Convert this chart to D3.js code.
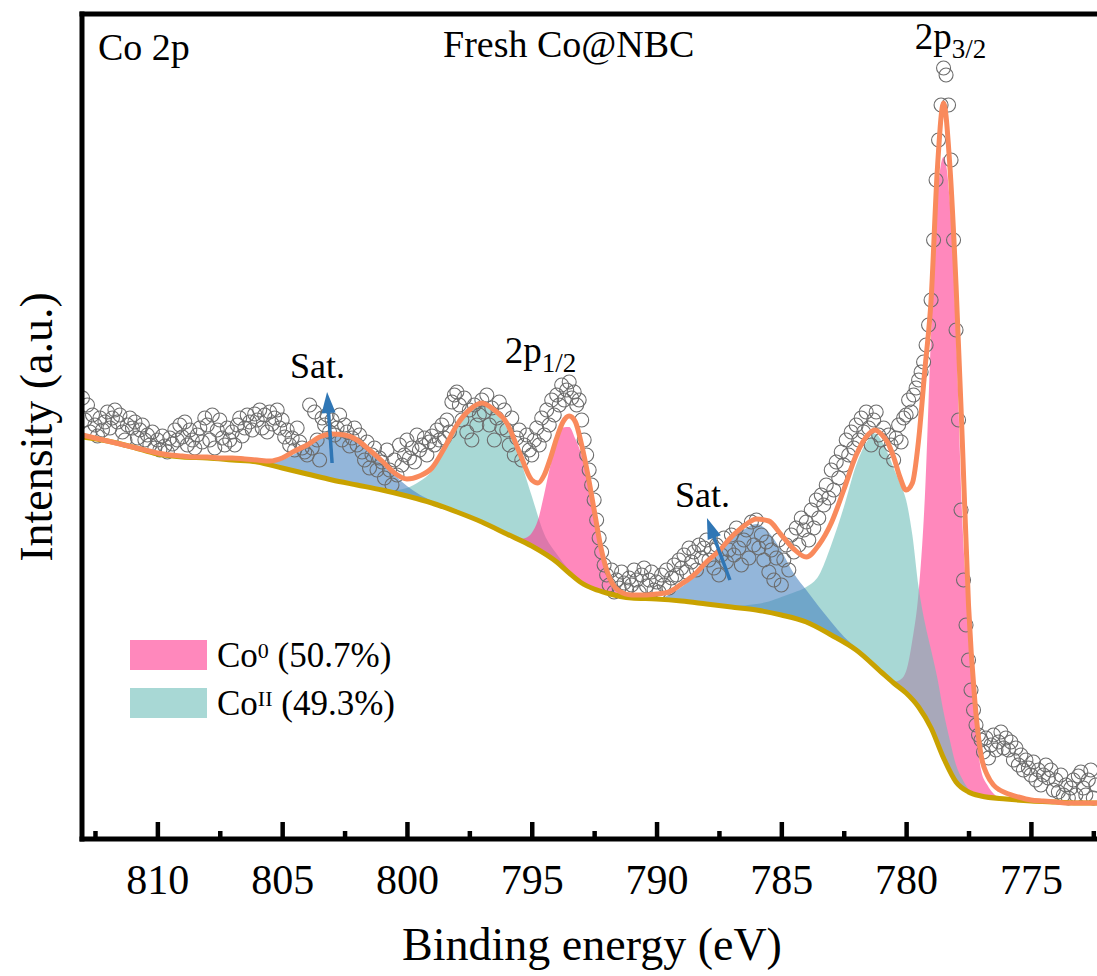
<!DOCTYPE html>
<html><head><meta charset="utf-8">
<script src="https://cdn.jsdelivr.net/npm/d3@7"></script>
<style>
html,body{margin:0;padding:0;background:#fff;}
svg{display:block;font-family:"Liberation Serif","Times New Roman",serif;}
</style></head><body>
<svg id="chart" width="1097" height="976"></svg>
<script>
// ---------------- DATA ----------------
// Raw XPS spectrum (Co 2p): binding-energy grid start/step, intensity (a.u.)
const dataStartE = 813.0, dataStepE = 0.1;
const dataV = [
 44.1,41.9,43.4,40.7,42.4,41.4,40.3,42.1,40.9,41.7,
 42.7,41.1,42.1,42.9,41.7,42.4,40.7,39.9,41.4,42.1,
 41.1,41.7,40.1,40.9,41.4,39.9,40.4,39.4,40.7,39.1,
 39.9,38.9,40.3,39.3,38.7,40.1,39.5,40.9,39.9,41.4,
 40.2,41.7,39.4,40.9,39.9,39.1,40.4,41.1,39.7,42.1,
 41.4,39.9,42.4,39.1,40.9,41.9,40.1,39.4,41.1,39.9,
 40.7,39.4,41.4,42.1,40.3,41.1,42.4,41.7,40.9,42.5,
 41.9,42.9,41.1,42.4,40.7,42.7,41.5,42.1,42.9,41.1,
 41.9,40.2,40.9,39.4,40.1,38.9,41.1,39.7,39.1,38.7,
 38.4,43.4,39.1,42.7,39.9,37.9,42.1,41.4,42.4,40.7,
 41.9,40.4,41.1,42.4,39.9,41.4,40.7,39.3,40.1,41.1,
 39.4,40.4,38.7,37.9,39.7,37.1,38.4,39.1,36.9,38.1,
 37.7,36.1,38.9,36.9,35.4,37.9,36.4,39.4,37.4,38.4,
 39.9,38.1,39.1,37.7,40.4,38.9,39.4,40.1,38.4,39.7,
 40.3,39.4,40.9,39.9,41.4,40.1,41.9,40.7,43.7,44.4,
 44.7,43.4,41.9,44.1,40.7,42.9,39.9,43.4,41.4,42.4,
 43.9,42.7,44.4,41.4,43.1,39.9,42.1,43.7,41.1,42.9,
 40.9,39.4,42.1,38.4,40.1,40.9,37.9,39.4,40.4,38.9,
 38.4,39.9,41.1,39.4,42.1,40.4,42.9,41.4,43.9,42.4,
 44.4,43.4,45.4,43.9,44.9,45.7,44.1,44.7,43.4,43.9,
 41.9,39.9,38.4,36.9,35.4,33.9,31.9,30.1,28.7,27.4,
 26.4,25.4,26.9,24.7,25.9,25.1,26.7,25.6,24.9,26.1,
 25.4,26.9,25.9,24.7,26.4,27.1,25.3,25.9,26.7,24.9,
 25.7,24.7,26.4,25.4,26.9,25.1,26.1,27.4,26.4,27.9,
 27.1,28.4,26.7,29.1,27.7,28.7,26.9,29.4,28.1,29.1,
 29.9,27.9,28.9,27.1,29.4,26.4,28.4,30.1,27.7,28.9,
 30.4,28.4,31.1,29.1,27.4,29.9,30.9,28.1,31.7,29.4,
 31.9,29.1,30.4,27.9,29.7,26.7,28.9,25.9,28.1,29.9,
 25.4,27.9,29.4,26.9,30.4,28.7,31.1,29.4,32.1,30.9,
 31.7,29.9,32.9,31.1,33.9,32.1,34.4,33.4,35.4,34.1,
 36.9,34.9,37.7,36.1,38.7,37.4,39.9,38.4,40.7,39.1,
 41.4,39.9,42.1,40.7,42.7,41.1,39.4,41.9,42.7,40.4,
 39.9,41.1,38.7,40.4,39.4,37.9,40.1,41.4,39.7,42.1,
 42.4,43.9,42.7,44.4,45.1,45.9,46.7,47.7,49.4,51.4,
 53.9,59.9,65.9,69.9,73.4,77.1,76.4,73.4,67.9,59.9,
 50.9,41.9,32.9,25.9,21.4,17.9,14.9,12.9,11.4,10.4,
 9.9,8.7,10.1,8.1,9.4,10.4,8.9,9.7,10.7,9.1,
 10.1,8.9,9.7,7.9,9.1,7.4,8.4,6.9,7.9,7.1,
 6.4,7.7,5.9,6.9,5.4,6.4,7.4,6.1,6.9,4.9,
 5.9,4.7,6.4,4.4,5.4,4.1,5.1,5.9,4.4,6.3,
 6.7,5.1,4.4,5.9,6.9,4.1,5.4
];

// Fitted envelope (cumulative fit)
const envE = [813,812.5,812,811.5,811,810.5,810,809.5,809,808.5,808,807.5,807,806.5,806,805.5,805,804.5,804,803.5,803,802.5,802,801.5,801,800.5,800,799.5,799,798.5,798,797.5,797,796.5,796,795.5,795,794.75,794.5,794.25,794,793.75,793.5,793.25,793,792.75,792.5,792.25,792,791.5,791,790.5,790,789.5,789,788.5,788,787.5,787,786.5,786,785.5,785,784.5,784,783.5,783,782.5,782,781.5,781.25,781,780.75,780.5,780.25,780,779.75,779.5,779.25,779,778.75,778.5,778.25,778,777.75,777.5,777.25,777,776.75,776.5,776.25,776,775.5,775,774.5,774,773.5,773,772.5,772.3];
const envV = [40.4,40.1,39.8,39.5,39.2,38.9,38.6,38.4,38.3,38.2,38.2,38.1,38.1,38.0,37.9,37.8,38.1,38.8,39.4,40.2,40.5,40.4,39.9,38.9,37.8,36.6,36.0,36.3,37.1,39.1,41.4,42.9,43.6,42.9,41.6,38.7,35.9,35.6,36.4,38.1,40.1,41.7,42.3,41.7,39.4,36.4,32.9,29.4,26.9,24.8,24.4,24.4,24.5,24.7,25.5,26.4,27.7,28.8,30.2,31.3,32.0,31.8,30.4,29.0,28.2,29.4,31.6,34.9,38.4,40.5,40.9,40.5,39.7,38.2,36.2,34.9,35.6,39.9,46.9,53.9,66.9,73.6,67.4,55.4,39.9,23.4,13.9,8.4,6.4,5.4,4.9,4.6,4.2,3.9,3.8,3.7,3.6,3.6,3.6,3.6];

// Background (Shirley)
const bgE = [813,812,811,810,809,808,807,806,805,804,803,802,801,800,799,798,797,796,795,794,793.5,793,792.5,792,791,790,789,788,787,786,785,784,783,782,781,780.5,780,779.5,779,778.5,778,777.5,777,776,775,774,773,772.3];
const bgV = [40.2,39.8,39.2,38.5,38.2,38.1,37.9,37.7,37.1,36.5,35.9,35.4,34.9,34.3,33.6,32.7,31.7,30.5,29.3,27.7,26.6,25.6,25.0,24.6,24.1,24.0,23.8,23.5,23.2,22.9,22.4,21.7,20.4,18.9,16.7,15.6,14.6,13.2,11.1,8.1,5.7,4.7,4.3,4.0,3.8,3.7,3.6,3.6];

// Fitted components (height above background)
const co032E = [780.5,780.25,780,779.75,779.5,779.25,779,778.75,778.5,778.25,778,777.75,777.5,777.25,777,776.75,776.5,776.25];
const co032V = [0.1,0.8,2.2,6.0,11.5,22.0,39.5,54.5,60.1,57.0,45.2,26.8,17.2,8.4,2.6,1.2,0.4,0];
const coII32E = [787,786.5,786,785.5,785,784.5,784,783.5,783,782.5,782,781.5,781.25,781,780.75,780.5,780.25,780,779.75,779.5,779.25,779,778.75,778.5,778.25,778,777.75,777.5,777];
const coII32V = [0.1,0.3,0.6,1.1,1.8,2.6,3.5,5.3,9.0,13.5,18.5,22.2,23.3,23.2,22.5,21.5,20.5,19.3,16.5,12.0,9.5,7.8,6.5,4.6,3.0,1.7,0.8,0.3,0];
const sat2E = [790,789.5,789,788.5,788,787.5,787,786.5,786,785.5,785,784.5,784,783.5,783,782.5,782,781.5];
const sat2V = [0,0.5,1.4,2.5,3.9,5.2,6.9,7.9,8.6,8.0,6.4,4.5,3.2,2.2,1.3,0.6,0.2,0];
const coII12E = [801,800.5,800,799.5,799,798.5,798,797.5,797,796.5,796,795.5,795,794.5,794,793.5,793,792.5];
const coII12V = [0,0.3,0.8,1.8,3.2,5.8,8.6,10.6,11.7,11.6,10.6,8.3,5.0,2.0,0.8,0.3,0.1,0];
const co012E = [796,795.5,795.25,795,794.75,794.5,794.25,794,793.75,793.5,793.25,793,792.75,792.5,792.25,792,791.75,791.5,791,790.5];
const co012V = [0,0.1,0.5,1.3,3.0,6.0,9.3,12.0,14.0,14.6,13.9,12.8,10.8,7.9,5.1,2.3,0.9,0.4,0.1,0];
const sat1E = [806,805.5,805,804.5,804,803.5,803,802.5,802,801.5,801,800.5,800,799.5,799,798.5];
const sat1V = [0,0.2,0.8,1.7,2.8,3.9,4.5,4.7,4.4,3.7,2.8,1.8,1.0,0.5,0.2,0];

// Axis ticks
const majorTicks = [810,805,800,795,790,785,780,775];
const minorTicks = [812.5,807.5,802.5,797.5,792.5,787.5,782.5,777.5,772.5];

// Legend
const legendNames = ['Co','Co'];
const legendSups = ['0','II'];
const legendShares = [' (50.7%)',' (49.3%)'];

// Annotations (binding energy, intensity)
const annoText = ['Sat.','Sat.'];
const annoE = [804.69, 789.26];
const annoV = [46.1, 33.2];
const arrowTailE = [803.0, 787.06], arrowTailV = [37.6, 25.9];
const arrowTipE  = [803.2, 787.98], arrowTipV  = [44.7, 32.1];
const peakLabelMain = ['2p','2p'];
const peakLabelSub = ['1/2','3/2'];
const peakLabelE = [796.08, 779.65];
const peakLabelV = [47.6, 79.0];

// ---------------- CHART ----------------
// translucent fills (opacity 0.6) in fit order
const fillOpacity = 0.6;
const basePink = '#FF398F', baseTeal = '#6EBEB9', baseBlue = '#4B85C1';
const colFit = '#F98A5C', colBg = '#C9A200', colArrow = '#2F76B5';

const svg = d3.select('#chart');
const x = d3.scaleLinear().domain([813.02, 772.3]).range([82, 1098.3]);
const y = d3.scaleLinear().domain([0, 82.5]).range([839, 14]);

svg.append('defs').append('clipPath').attr('id','clip')
  .append('rect').attr('x',84).attr('y',16).attr('width',1020).attr('height',821);

const plot = svg.append('g').attr('clip-path','url(#clip)');

const raw = dataV.map((v,i)=>({e: dataStartE - i*dataStepE, v}));

const bgAt = d3.scaleLinear().domain(bgE).range(bgV);
function comp(E,V){ return E.map((e,i)=>({e, b:bgAt(e), t:bgAt(e)+V[i]})); }
const area = d3.area().x(d=>x(d.e)).y0(d=>y(d.b)).y1(d=>y(d.t)).curve(d3.curveMonotoneX);

const comps = [
  [co032E, co032V, basePink], [coII32E, coII32V, baseTeal], [sat2E, sat2V, baseBlue],
  [coII12E, coII12V, baseTeal], [co012E, co012V, basePink], [sat1E, sat1V, baseBlue]
];
const fills = plot.append('g');
comps.forEach(([E,V,c])=>{
  fills.append('path').datum(comp(E,V)).attr('d',area).attr('fill',c).attr('fill-opacity',fillOpacity);
});

// raw data circles
plot.append('g').selectAll('circle').data(raw).join('circle')
  .attr('cx',d=>x(d.e)).attr('cy',d=>y(d.v)).attr('r',7)
  .attr('fill','none').attr('stroke','#6c6c6c').attr('stroke-width',1.1);

// background line
const line = d3.line().x(d=>x(d.e)).y(d=>y(d.v)).curve(d3.curveMonotoneX);
plot.append('path').datum(bgE.map((e,i)=>({e, v:bgV[i]})))
  .attr('d',line).attr('fill','none').attr('stroke',colBg).attr('stroke-width',5);
// envelope
plot.append('path').datum(envE.map((e,i)=>({e, v:envV[i]})))
  .attr('d',line).attr('fill','none').attr('stroke',colFit).attr('stroke-width',5)
  .attr('stroke-linejoin','round');

// arrows
const arrows = svg.append('g');
arrowTailE.forEach((_,i)=>{
  const x0=x(arrowTailE[i]), y0=y(arrowTailV[i]), x1=x(arrowTipE[i]), y1=y(arrowTipV[i]);
  const dx=x1-x0, dy=y1-y0, L=Math.hypot(dx,dy), ux=dx/L, uy=dy/L;
  const hl=21, hw=7;
  const bx=x1-ux*hl, by=y1-uy*hl;
  arrows.append('line').attr('x1',x0).attr('y1',y0).attr('x2',bx+ux*2).attr('y2',by+uy*2)
    .attr('stroke',colArrow).attr('stroke-width',3.5);
  arrows.append('path').attr('d',`M${x1},${y1}L${bx-uy*hw},${by+ux*hw}L${bx+uy*hw},${by-ux*hw}Z`)
    .attr('fill',colArrow);
});

// annotation text
annoText.forEach((t,i)=>{
  svg.append('text').attr('x',x(annoE[i])).attr('y',y(annoV[i]))
    .attr('font-size',36).attr('fill','#000').text(t);
});
peakLabelMain.forEach((t,i)=>{
  const tx = svg.append('text').attr('x',x(peakLabelE[i])).attr('y',y(peakLabelV[i]))
    .attr('font-size',37).attr('fill','#000');
  tx.append('tspan').text(t);
  tx.append('tspan').attr('font-size',27).attr('dy',9).text(peakLabelSub[i]);
});

// panel texts
svg.append('text').attr('x',98).attr('y',60).attr('font-size',38).text('Co 2p');
svg.append('text').attr('x',443).attr('y',57).attr('font-size',38).text('Fresh Co@NBC');

// frame
const frame = svg.append('g').attr('stroke','#000').attr('stroke-width',5);
frame.append('line').attr('x1',82).attr('x2',82).attr('y1',11.5).attr('y2',841.5);
frame.append('line').attr('x1',79.5).attr('x2',1100).attr('y1',14).attr('y2',14);
frame.append('line').attr('x1',79.5).attr('x2',1100).attr('y1',839).attr('y2',839);

// x axis ticks
const axMajor = d3.axisBottom(x).tickValues(majorTicks).tickSizeInner(-17).tickSizeOuter(0).tickFormat(d3.format('d'));
const gMaj = svg.append('g').attr('transform','translate(0,839)').call(axMajor);
gMaj.select('.domain').remove();
gMaj.selectAll('line').attr('stroke','#000').attr('stroke-width',4.5);
gMaj.selectAll('text').attr('y',55).attr('dy',0).attr('font-size',42)
  .attr('font-family','"Liberation Serif","Times New Roman",serif').attr('fill','#000');
const axMinor = d3.axisBottom(x).tickValues(minorTicks).tickSizeInner(-8).tickSizeOuter(0).tickFormat('');
const gMin = svg.append('g').attr('transform','translate(0,839)').call(axMinor);
gMin.select('.domain').remove();
gMin.selectAll('line').attr('stroke','#000').attr('stroke-width',4.5);

// axis titles
svg.append('text').attr('x',592).attr('y',960).attr('text-anchor','middle')
  .attr('font-size',46).text('Binding energy (eV)');
svg.append('text').attr('transform','translate(52,427) rotate(-90)').attr('text-anchor','middle')
  .attr('font-size',46).text('Intensity (a.u.)');

// legend
const lg = svg.append('g');
[basePink, baseTeal].forEach((c,i)=>{
  const yy = 640 + i*48;
  lg.append('rect').attr('x',130).attr('y',yy).attr('width',77).attr('height',30)
    .attr('fill',c).attr('fill-opacity',fillOpacity);
  const t = lg.append('text').attr('x',217).attr('y',yy+27).attr('font-size',35);
  t.append('tspan').text(legendNames[i]);
  t.append('tspan').attr('font-size',22).attr('dy',-9).text(legendSups[i]);
  t.append('tspan').attr('dy',9).text(legendShares[i]);
});
</script>
</body></html>
